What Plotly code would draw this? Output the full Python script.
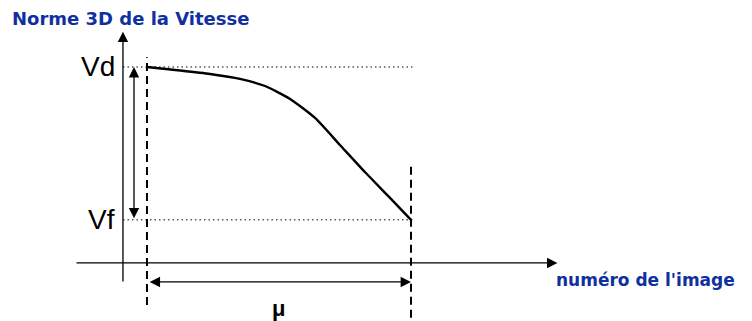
import plotly.graph_objects as go

# schematic data: frame number vs 3D speed norm
frames = [1, 2.375, 3.625, 4.875, 5.92, 6.96, 8.0, 9.04, 10.08, 11.125, 12]
speeds = [10, 9.82, 9.64, 9.39, 9.03, 8.37, 7.40, 6.02, 4.64, 3.32, 2.2]
v_d = speeds[0]
v_f = speeds[-1]
f_start = frames[0]
f_end = frames[-1]
labels = ["Vd", "Vf"]

blue = "#1030a0"
fig = go.Figure()

fig.add_trace(go.Scatter(x=frames, y=speeds, mode="lines",
                         line=dict(color="black", width=2.4, shape="spline", smoothing=0.6),
                         hoverinfo="skip", showlegend=False))

# dotted reference levels
for v in [v_d, v_f]:
    fig.add_shape(type="line", x0=0, x1=f_end + 0.08, y0=v, y1=v,
                  line=dict(color="black", width=1, dash="1.5px,3px"))

# dashed frame markers
fig.add_shape(type="line", x0=f_start, x1=f_start, y0=-2.15, y1=10.5,
              line=dict(color="black", width=2, dash="8px,5px"))
fig.add_shape(type="line", x0=f_end, x1=f_end, y0=-2.8, y1=5.15,
              line=dict(color="black", width=2, dash="8px,5px"))

arrows = []
# axes
arrows.append(dict(x=0, y=11.8, ax=0, ay=-1.02, arrowside="end"))
arrows.append(dict(x=18.1, y=0, ax=-2.0, ay=0, arrowside="end"))
# delta V and mu
arrows.append(dict(x=0.46, y=v_d, ax=0.46, ay=v_f, arrowside="end+start"))
arrows.append(dict(x=f_end, y=-0.97, ax=f_start + 0.05, ay=-0.97, arrowside="end+start"))

for a in arrows:
    fig.add_annotation(x=a["x"], y=a["y"], ax=a["ax"], ay=a["ay"], xref="x", yref="y",
                       axref="x", ayref="y", text="", showarrow=True,
                       arrowhead=2, arrowsize=1.6, arrowwidth=1.3, arrowcolor="black",
                       arrowside=a["arrowside"], standoff=0, startstandoff=0)

for lab, v in zip(labels, [v_d, v_f]):
    fig.add_annotation(x=-0.25, y=v, text=lab, showarrow=False, xanchor="right",
                       yanchor="middle", font=dict(family="Liberation Sans", size=28, color="black"))

fig.add_annotation(x=(f_start + f_end) / 2, y=-2.32, text="<b>μ</b>", showarrow=False,
                   yanchor="middle",
                   font=dict(family="Liberation Sans", size=22, color="black"))

fig.add_annotation(x=0, y=1, xref="paper", yref="paper", text="<b>Norme 3D de la Vitesse</b>",
                   showarrow=False, xanchor="left", yanchor="top", xshift=2, yshift=2,
                   font=dict(family="DejaVu Sans", size=18, color=blue))
fig.add_annotation(x=17.95, y=-0.87, text="<b>numéro de l'image</b>", showarrow=False,
                   xanchor="left", yanchor="middle",
                   font=dict(family="DejaVu Sans", size=17, color=blue))

# ranges compensate for the 8px page margin around the figure
fig.update_layout(width=752, height=321, margin=dict(l=0, r=0, t=0, b=0),
                  plot_bgcolor="white", paper_bgcolor="white",
                  xaxis=dict(range=[-4.79, 26.54], visible=False, fixedrange=True),
                  yaxis=dict(range=[-3.37, 13.01], visible=False, fixedrange=True))

fig.write_html("out.html")
